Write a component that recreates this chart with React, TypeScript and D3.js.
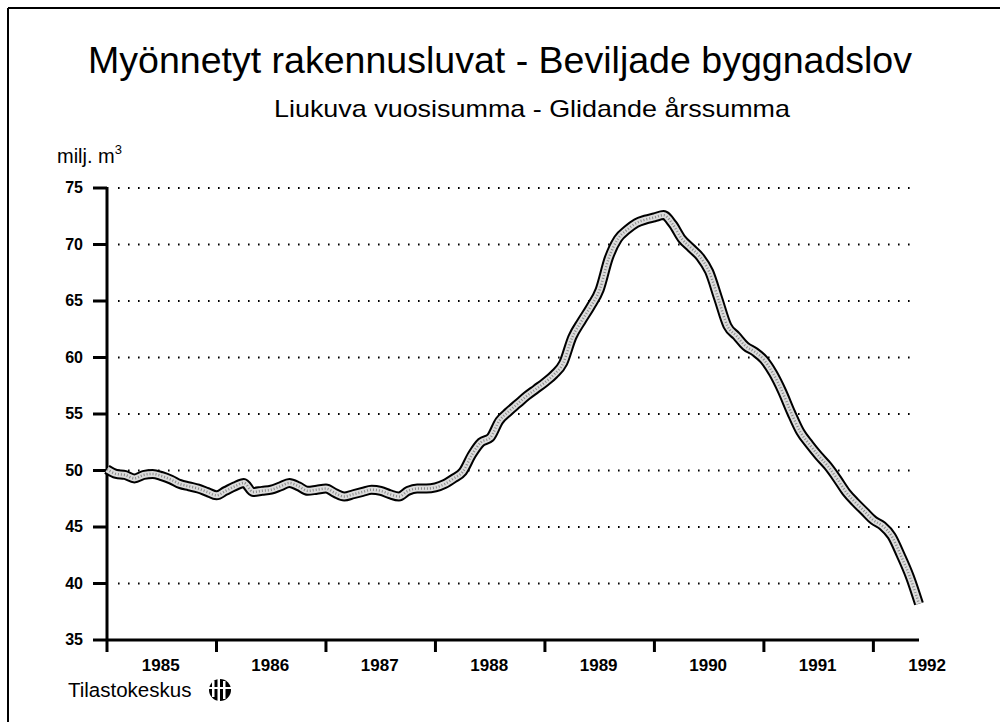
import React from 'react';
import * as d3 from 'd3';

// rolling 12-month sum of granted building permits, million m3, monthly from Jan 1985
const permits = [
  50.1, 49.7, 49.6, 49.3, 49.6, 49.7, 49.5, 49.2, 48.8, 48.6, 48.4, 48.1,
  47.8, 48.2, 48.6, 48.9, 48.1, 48.2, 48.3, 48.6, 48.9, 48.6, 48.2, 48.3,
  48.4, 48.0, 47.7, 47.9, 48.1, 48.3, 48.2, 47.9, 47.7, 48.2, 48.4, 48.4,
  48.5, 48.8, 49.3, 49.9, 51.4, 52.5, 52.9, 54.4, 55.2, 55.9, 56.6, 57.2,
  57.8, 58.5, 59.5, 61.8, 63.2, 64.5, 66.0, 68.8, 70.5, 71.3, 71.9, 72.2,
  72.4, 72.6, 71.8, 70.5, 69.7, 68.9, 67.6, 65.2, 62.8, 61.9, 61.0, 60.5,
  59.8, 58.6, 57.0, 55.1, 53.4, 52.3, 51.3, 50.4, 49.3, 48.1, 47.2, 46.4,
  45.6, 45.1, 44.2, 42.5, 40.6, 38.2,
];
const startYear = 1985;
const years = [1985, 1986, 1987, 1988, 1989, 1990, 1991, 1992];
const yTicks = [35, 40, 45, 50, 55, 60, 65, 70, 75];

const title = 'Myönnetyt rakennusluvat - Beviljade byggnadslov';
const subtitle = 'Liukuva vuosisumma - Glidande årssumma';
const source = 'Tilastokeskus';

const font = '"Liberation Sans", Arial, Helvetica, sans-serif';

export default function App() {
  const width = 1000;
  const height = 722;
  const x = d3.scaleLinear().domain([startYear, startYear + (permits.length - 1) / 12]).range([107, 919]);
  const y = d3.scaleLinear().domain([35, 75]).range([640, 188]);

  const line = d3.line<number>()
    .x((d, i) => x(startYear + i / 12))
    .y(d => y(d))
    .curve(d3.curveMonotoneX);
  const path = line(permits) || '';

  return (
    <svg width={width} height={height} style={{ position: 'absolute', left: 0, top: 0, background: '#fff' }}
      fontFamily={font}>
      {/* frame */}
      <line x1={8} y1={8} x2={1000} y2={8} stroke="#000" strokeWidth={2} />
      <line x1={8} y1={8} x2={8} y2={722} stroke="#000" strokeWidth={2} />

      <text x={500} y={73} textAnchor="middle" fontSize={37.5} textLength={824} lengthAdjust="spacingAndGlyphs">{title}</text>
      <text x={532} y={117} textAnchor="middle" fontSize={24} textLength={516} lengthAdjust="spacingAndGlyphs">{subtitle}</text>
      <text x={57} y={163} fontSize={20}>milj. m<tspan dy={-9} fontSize={13}>3</tspan></text>

      {/* grid */}
      {yTicks.filter(t => t > 35).map(t => (
        <line key={'g' + t} x1={118} x2={914} y1={y(t)} y2={y(t)}
          stroke="#000" strokeWidth={2} strokeDasharray="1.6 8.4" />
      ))}

      {/* y axis */}
      <line x1={x(1985)} x2={x(1985)} y1={y(75) - 1} y2={y(35) + 1} stroke="#000" strokeWidth={3} />
      {yTicks.map(t => (
        <g key={'y' + t}>
          <line x1={93} x2={x(1985)} y1={y(t)} y2={y(t)} stroke="#000" strokeWidth={3} />
          <text x={83} y={y(t) + 5} textAnchor="end" fontSize={16} fontWeight="bold">{t}</text>
        </g>
      ))}

      {/* x axis */}
      <line x1={x(1985) - 1} x2={919} y1={y(35)} y2={y(35)} stroke="#000" strokeWidth={3} />
      {years.map(yr => (
        <g key={'x' + yr}>
          <line x1={x(yr)} x2={x(yr)} y1={y(35)} y2={y(35) + 12} stroke="#000" strokeWidth={3} />
          <text x={x(yr + 0.5) - 1} y={y(35) + 31} textAnchor="middle" fontSize={17} fontWeight="bold">{yr}</text>
        </g>
      ))}

      {/* series: outlined, stippled band */}
      <path d={path} fill="none" stroke="#000" strokeWidth={10} strokeLinejoin="round" />
      <path d={path} fill="none" stroke="#dcdcdc" strokeWidth={6} strokeLinejoin="round" />
      <path d={path} fill="none" stroke="#8a8a8a" strokeWidth={2.5} strokeDasharray="1 2" />

      {/* source */}
      <text x={68} y={697} fontSize={20.5}>{source}</text>
      <g transform="translate(220,690)">
        <ellipse cx={0} cy={0} rx={11} ry={11} fill="#000" />
        <rect x={-8} y={-9} width={2.5} height={16} fill="#fff" />
        <rect x={-2.5} y={-13} width={2.5} height={24} fill="#fff" />
        <rect x={3} y={-9} width={2.5} height={18} fill="#fff" />
        <rect x={-12} y={-3} width={24} height={2} fill="#fff" />
      </g>
    </svg>
  );
}
